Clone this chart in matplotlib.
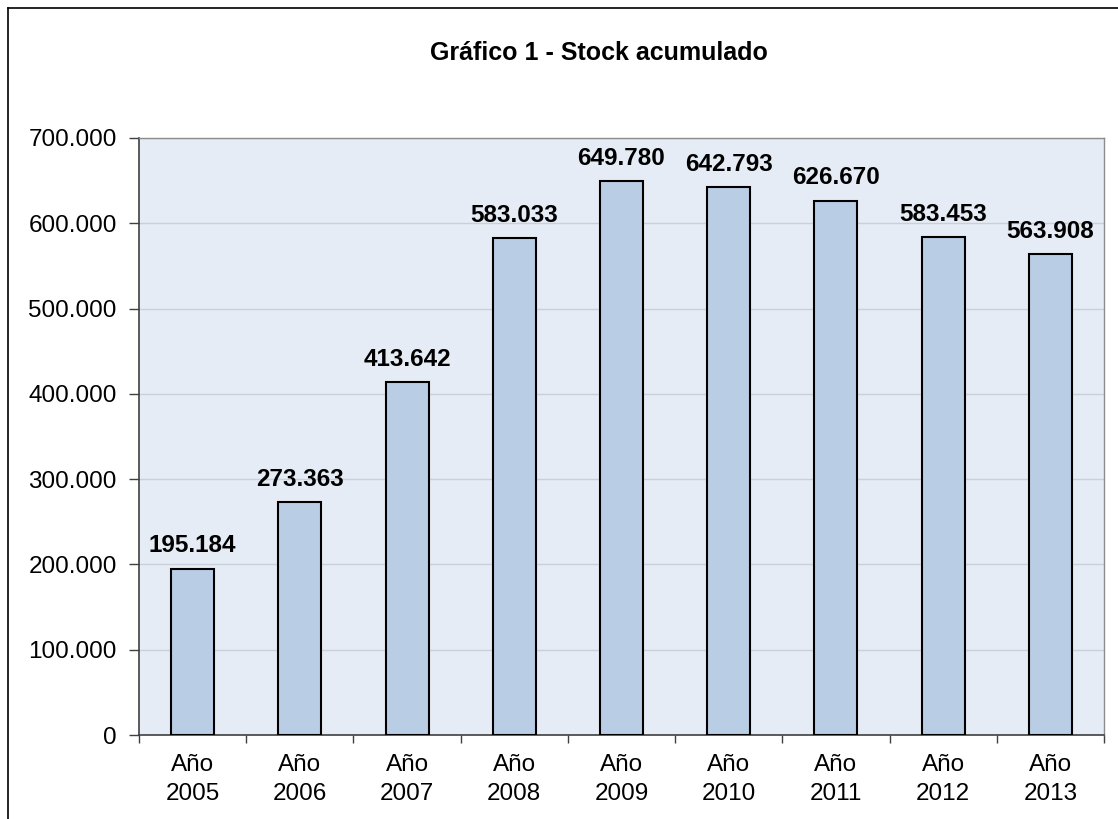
import matplotlib
matplotlib.use("Agg")
import matplotlib.pyplot as plt
import numpy as np

plt.rcParams['font.family'] = ['Liberation Sans', 'DejaVu Sans']

years = ["2005", "2006", "2007", "2008", "2009", "2010", "2011", "2012", "2013"]
stock = [195184, 273363, 413642, 583033, 649780, 642793, 626670, 583453, 563908]
stock_labels = ["195.184", "273.363", "413.642", "583.033", "649.780",
                "642.793", "626.670", "583.453", "563.908"]
yticks = [0, 100000, 200000, 300000, 400000, 500000, 600000, 700000]
ytick_labels = ["0", "100.000", "200.000", "300.000", "400.000",
                "500.000", "600.000", "700.000"]

W, H = 1118, 819
fig = plt.figure(figsize=(W / 100, H / 100), dpi=100)

# outer frame of the chart (right/bottom edges cut off in the original)
fig.add_artist(plt.Line2D([7.5 / W, 7.5 / W], [0, 1 - 8 / H], color="black", lw=1.2,
                          transform=fig.transFigure))
fig.add_artist(plt.Line2D([7.5 / W, 1], [1 - 8 / H, 1 - 8 / H], color="black", lw=1.2,
                          transform=fig.transFigure))

ax = fig.add_axes([139 / W, 1 - 735 / H, (1104 - 139) / W, (735 - 138) / H])
ax.set_facecolor("#E6ECF5")

x = np.arange(len(years))
ax.bar(x, stock, width=0.4, color="#B9CDE5", edgecolor="black", linewidth=1.5, zorder=3)

for xi, v, lab in zip(x, stock, stock_labels):
    ax.annotate(lab, (xi, v), xytext=(0, 8), textcoords="offset points",
                ha="center", va="bottom", fontsize=17.5, fontweight="bold")

ax.set_xlim(-0.5, len(years) - 0.5)
ax.set_ylim(0, 700000)
ax.set_yticks(yticks)
ax.set_yticklabels(ytick_labels, fontsize=17.5)
ax.yaxis.grid(True, color="#C9D0DA", lw=1, zorder=0)

ax.set_xticks(x)
ax.set_xticklabels(["Año\n" + y for y in years], fontsize=17.5, linespacing=1.38)
ax.tick_params(axis="x", length=0, pad=14)
ax.set_xticks(np.arange(len(years) + 1) - 0.5, minor=True)
ax.tick_params(axis="x", which="minor", length=6, width=1, color="#404040")
ax.tick_params(axis="y", length=7, width=1, color="#404040", pad=9)

for side in ("top", "right"):
    ax.spines[side].set_color("#8C8C8C")
    ax.spines[side].set_linewidth(1)
for side in ("left", "bottom"):
    ax.spines[side].set_color("#404040")
    ax.spines[side].set_linewidth(1.2)

fig.text(599 / W, 1 - 53 / H, "Gráfico 1 - Stock acumulado", ha="center", va="center",
         fontsize=18, fontweight="bold")

fig.savefig("out.png", dpi=100)
